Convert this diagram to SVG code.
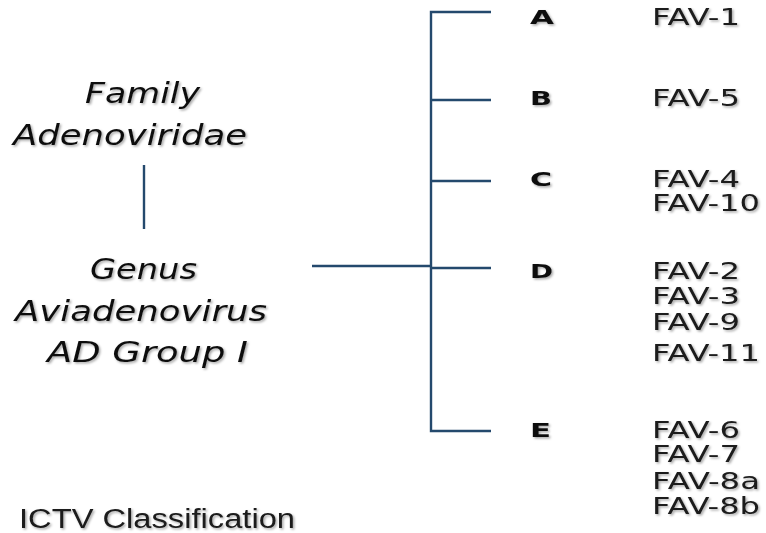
<svg xmlns="http://www.w3.org/2000/svg" width="766" height="533" viewBox="0 0 766 533">
<defs>
<filter id="sh" x="-10%" y="-30%" width="120%" height="160%">
<feDropShadow dx="1.5" dy="1.5" stdDeviation="1" flood-color="#000" flood-opacity="0.35"/>
</filter>
<style>
.ln{stroke:#24496d;stroke-width:2.4;fill:none}
.tax{font-family:"DejaVu Sans",Verdana,sans-serif;font-style:italic;font-size:28px;fill:#111}
.grp{font-family:"DejaVu Sans",Verdana,sans-serif;font-weight:bold;font-size:20px;fill:#111}
.fav{font-family:"DejaVu Sans",Verdana,sans-serif;font-size:23px;fill:#1a1a1a}
.ictv{font-family:"Liberation Sans",Arial,sans-serif;font-size:27px;fill:#1a1a1a}
</style>
</defs>
<rect width="766" height="533" fill="#fff"/>
<g id="connectors">
<line class="ln" x1="144" y1="165" x2="144" y2="229"/>
<line class="ln" x1="312" y1="266" x2="431" y2="266"/>
<polyline class="ln" points="491,12 431,12 431,431 491,431"/>
<line class="ln" x1="431" y1="100" x2="491" y2="100"/>
<line class="ln" x1="431" y1="181" x2="491" y2="181"/>
<line class="ln" x1="431" y1="268" x2="491" y2="268"/>
</g>
<g id="family" filter="url(#sh)">
<text class="tax" x="85" y="103" textLength="115" lengthAdjust="spacingAndGlyphs">Family</text>
<text class="tax" x="13" y="145" textLength="234" lengthAdjust="spacingAndGlyphs">Adenoviridae</text>
</g>
<g id="genus" filter="url(#sh)">
<text class="tax" x="90" y="279" textLength="107" lengthAdjust="spacingAndGlyphs">Genus</text>
<text class="tax" x="15" y="321" textLength="252" lengthAdjust="spacingAndGlyphs">Aviadenovirus</text>
<text class="tax" x="47" y="362" textLength="201" lengthAdjust="spacingAndGlyphs">AD Group I</text>
</g>
<g id="group-A" filter="url(#sh)">
<text class="grp" x="530" y="24" textLength="24" lengthAdjust="spacingAndGlyphs">A</text>
<text class="fav" x="652" y="25" textLength="88" lengthAdjust="spacingAndGlyphs">FAV-1</text>
</g>
<g id="group-B" filter="url(#sh)">
<text class="grp" x="530" y="105" textLength="22" lengthAdjust="spacingAndGlyphs">B</text>
<text class="fav" x="652" y="106" textLength="88" lengthAdjust="spacingAndGlyphs">FAV-5</text>
</g>
<g id="group-C" filter="url(#sh)">
<text class="grp" x="530" y="186" textLength="22" lengthAdjust="spacingAndGlyphs">C</text>
<text class="fav" x="652" y="187" textLength="88" lengthAdjust="spacingAndGlyphs">FAV-4</text>
<text class="fav" x="652" y="211" textLength="108" lengthAdjust="spacingAndGlyphs">FAV-10</text>
</g>
<g id="group-D" filter="url(#sh)">
<text class="grp" x="530" y="278" textLength="23" lengthAdjust="spacingAndGlyphs">D</text>
<text class="fav" x="652" y="279" textLength="88" lengthAdjust="spacingAndGlyphs">FAV-2</text>
<text class="fav" x="652" y="304" textLength="88" lengthAdjust="spacingAndGlyphs">FAV-3</text>
<text class="fav" x="652" y="330" textLength="88" lengthAdjust="spacingAndGlyphs">FAV-9</text>
<text class="fav" x="652" y="361" textLength="108" lengthAdjust="spacingAndGlyphs">FAV-11</text>
</g>
<g id="group-E" filter="url(#sh)">
<text class="grp" x="530" y="437" textLength="21" lengthAdjust="spacingAndGlyphs">E</text>
<text class="fav" x="652" y="438" textLength="88" lengthAdjust="spacingAndGlyphs">FAV-6</text>
<text class="fav" x="652" y="462" textLength="88" lengthAdjust="spacingAndGlyphs">FAV-7</text>
<text class="fav" x="652" y="489" textLength="108" lengthAdjust="spacingAndGlyphs">FAV-8a</text>
<text class="fav" x="652" y="514" textLength="108" lengthAdjust="spacingAndGlyphs">FAV-8b</text>
</g>
<g id="ictv" filter="url(#sh)">
<text class="ictv" x="19" y="528" textLength="276" lengthAdjust="spacingAndGlyphs">ICTV Classification</text>
</g>
</svg>
